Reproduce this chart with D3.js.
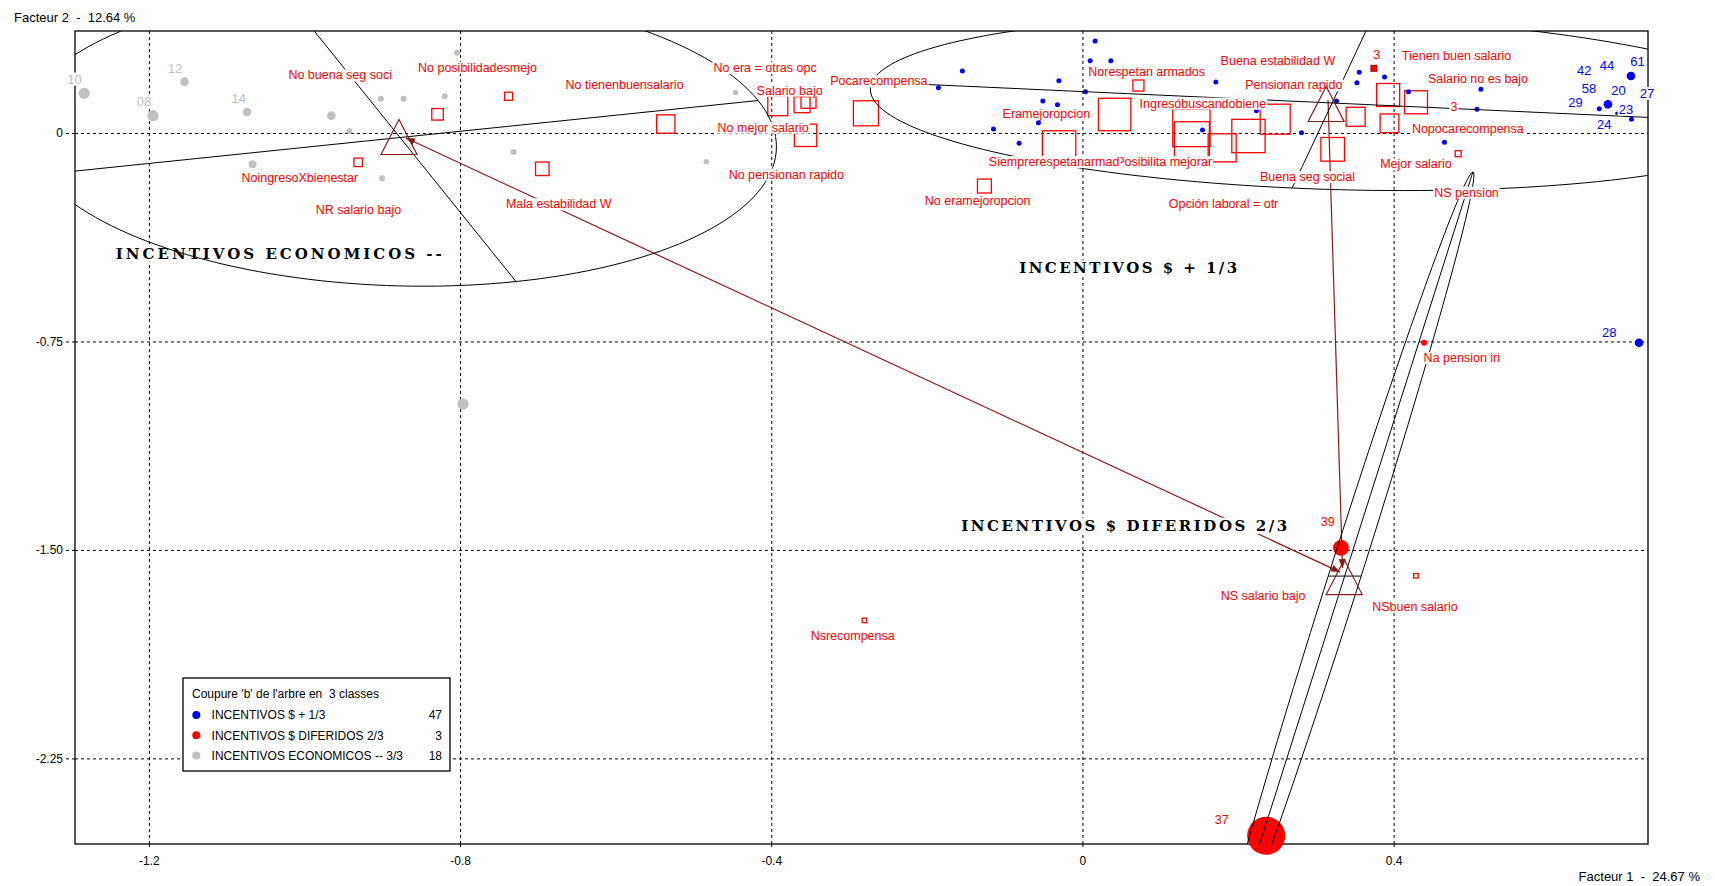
<!DOCTYPE html>
<html lang="es">
<head>
<meta charset="utf-8">
<title>Facteur 1 x Facteur 2</title>
<script src="https://cdn.jsdelivr.net/npm/d3@7"></script>
<style>
  body { margin: 0; background: #fff; }
  svg { display: block; font-family: "Liberation Sans", Arial, sans-serif; }
</style>
</head>
<body>
<svg id="chart" width="1715" height="886"></svg>
<script>
// ---- data ----
const xDomain = [-1.295, 0.727];
const yDomain = [-2.558, 0.367];
const xTicks = [-1.2, -0.8, -0.4, 0, 0.4];
const xTickLabels = ["-1.2", "-0.8", "-0.4", "0", "0.4"];
const yTicks = [0, -0.75, -1.5, -2.25];
const yTickLabels = ["0", "-0.75", "-1.50", "-2.25"];

const classNames = ["INCENTIVOS $ + 1/3", "INCENTIVOS $ DIFERIDOS 2/3", "INCENTIVOS ECONOMICOS -- 3/3"];
const classCounts = [47, 3, 18];
const classTitles = ["INCENTIVOS $ + 1/3", "INCENTIVOS $ DIFERIDOS 2/3", "INCENTIVOS ECONOMICOS --"];
const classTitleX = [0.0588, 0.0536, -1.0330];
const classTitleY = [-0.4858, -1.4124, -0.4329];
const classCenters = [[0.3133, 0.1044], [0.3365, -1.5977], [-0.8785, -0.0144]];

// ellipses: center, first half-axis, second half-axis (factor units)
const ellCenters = [[0.3210, 0.1080], [0.3371, -1.5941], [-0.8772, -0.0162]];
const ellMajor = [[0.5914, -0.0756], [0.1648, 1.4538], [0.4603, 0.1331]];
const ellMinor = [[-0.0514, -0.3059], [0.0212, 0], [0.1491, -0.5182]];

// links between classes
const linkFrom = [[-0.8695, -0.0180], [0.3157, 0.1187]];
const linkTo = [[0.3313, -1.5797], [0.3343, -1.5653]];

// individuals [x, y, weight]
const blueDots = [
  [0.0163, 0.3311, 1], [0.0099, 0.2602, 1], [0.0365, 0.2602, 1], [-0.1543, 0.2231, 1],
  [-0.0303, 0.1882, 1], [-0.1851, 0.1630, 1], [0.0039, 0.1486, 1], [-0.0509, 0.1151, 1],
  [-0.0321, 0.1018, 1], [-0.0566, 0.0371, 1], [-0.1144, 0.0144, 1], [-0.0814, -0.0371, 1],
  [0.1715, 0.1835, 1], [0.2237, 0.0802, 1], [0.1543, 0.0108, 1], [0.2816, 0.0011, 1],
  [0.3266, 0.1151, 1], [0.3558, 0.2184, 1], [0.3528, 0.1810, 1], [0.3883, 0.2015, 1],
  [0.4191, 0.1486, 1], [0.4654, -0.0335, 1], [0.5122, 0.1573, 1], [0.5071, 0.0853, 1],
  [0.7051, 0.2051, 3], [0.6755, 0.1033, 3], [0.6643, 0.0874, 1], [0.7058, 0.0493, 1],
  [0.6871, 0.0709, 0.5], [0.7155, -0.7546, 3]
];
const grayDots = [
  [-1.2832, 0.1429, 5], [-1.1543, 0.1846, 3], [-1.1948, 0.0623, 5], [-1.0737, 0.0756, 3],
  [-0.9654, 0.0623, 3], [-0.9423, 0.0072, 1.4], [-0.9019, 0.1234, 1.4], [-0.8725, 0.1234, 1.4],
  [-0.8198, 0.1321, 1.4], [-0.8039, 0.2890, 1.4], [-1.0667, -0.1126, 2.5], [-0.9004, -0.1630, 1.4],
  [-0.7312, -0.0684, 1.4], [-0.7962, -0.9752, 5], [-0.4459, 0.1457, 1.2], [-0.4835, -0.1033, 1.2]
];
const redDots = [[0.3323, -1.4923, 10], [0.2362, -2.5283, 58], [0.4392, -0.7546, 1.4]];
const redMarks = [[0.3747, 0.2328]];

// modalities [x, y, weight]
const squares = [
  [-0.8290, 0.0673, 3.67], [-0.7377, 0.1321, 1.78], [-0.9310, -0.1054, 2.0], [-0.6943, -0.1288, 5.06],
  [-0.5356, 0.0324, 9.3], [-0.3916, 0.0982, 11.1], [-0.3604, 0.1018, 7.1], [-0.3521, 0.1159, 6.25],
  [-0.3559, -0.0083, 13.9], [-0.2783, 0.0709, 17.4], [-0.0300, -0.0518, 30.8], [-0.1260, -0.1907, 5.4],
  [0.0414, 0.0666, 29.2], [0.0720, 0.1709, 3.4], [0.1401, 0.0180, 38.6], [0.1407, -0.0223, 34],
  [0.1796, -0.0533, 21.8], [0.2134, -0.0108, 30.8], [0.2478, 0.0497, 25], [0.3512, 0.0583, 10],
  [0.3930, 0.1367, 14.7], [0.3947, 0.0349, 9.7], [0.4288, 0.1105, 14.7], [0.3217, -0.0587, 15.5],
  [0.4830, -0.0745, 1], [-0.2802, -1.7535, 0.56], [0.4287, -1.5930, 0.56]
];

// text labels [text, x, y]
const modLabels = [
  ["No buena seg soci", -0.9541, 0.2087], ["No posibilidadesmejo", -0.7777, 0.2350],
  ["No tienenbuensalario", -0.5886, 0.1752], ["NoingresoXbienestar", -1.0060, -0.1608],
  ["NR salario bajo", -0.9307, -0.2771], ["Mala estabilidad W", -0.6732, -0.2555],
  ["No era = otras opc", -0.4079, 0.2350], ["Salario bajo", -0.3764, 0.1537],
  ["No mejor salario", -0.4105, 0.0205], ["No pensionan rapido", -0.3806, -0.1486],
  ["Pocarecompensa", -0.2616, 0.1871], ["Eramejoropcion", -0.0464, 0.0694],
  ["Posibilita mejorar", 0.1050, -0.1033], ["Siemprerespetanarmad", -0.0364, -0.1033],
  ["No eramejoropcion", -0.1347, -0.2436], ["Norespetan armados", 0.0825, 0.2206],
  ["Ingresóbuscandobiene", 0.1548, 0.1069], ["Buena estabilidad W", 0.2513, 0.2591],
  ["Pensionan rapido", 0.2717, 0.1727], ["Buena seg social", 0.2893, -0.1573],
  ["Opción laboral = otr", 0.1814, -0.2555], ["3", 0.3783, 0.2807],
  ["Tienen buen salario", 0.4808, 0.2771], ["Salario no es bajo", 0.5085, 0.1943],
  ["3", 0.4775, 0.0946], ["Nopocarecompensa", 0.4954, 0.0169],
  ["Mejor salario", 0.4287, -0.1116], ["NS pension", 0.4937, -0.2134],
  ["Na pension iri", 0.4877, -0.8086], ["NS salario bajo", 0.2323, -1.6650],
  ["NSbuen salario", 0.4274, -1.7031], ["Nsrecompensa", -0.2953, -1.8075],
  ["39", 0.3153, -1.3987], ["37", 0.1791, -2.4721]
];
const blueLabels = [
  ["42", 0.6450, 0.2267], ["44", 0.6742, 0.2447], ["61", 0.7136, 0.2566], ["58", 0.6511, 0.1608],
  ["20", 0.6891, 0.1547], ["27", 0.7256, 0.1429], ["29", 0.6338, 0.1090], ["23", 0.6986, 0.0864],
  ["24", 0.6707, 0.0313], ["28", 0.6772, -0.7161]
];
const grayLabels = [["10", -1.2956, 0.1943], ["12", -1.1665, 0.2339], ["08", -1.2064, 0.1126], ["14", -1.0845, 0.1249]];

// ---- layout ----
const W = 1715, H = 886;
const margin = {top: 31, right: 67, bottom: 42, left: 75};
const BLUE = "#0000ff", RED = "#ff0000", GRAY = "#c0c0c0", DARKRED = "#8b1a1a";
const classColors = [BLUE, RED, GRAY];
const titleWidth = [218, 326, 326];

const x = d3.scaleLinear().domain(xDomain).range([margin.left, W - margin.right]);
const y = d3.scaleLinear().domain(yDomain).range([H - margin.bottom, margin.top]);
const rDot = d3.scaleSqrt().domain([0, 1]).range([0, 2.5]);
const sSq = d3.scaleSqrt().domain([0, 1]).range([0, 6]);
const plotW = W - margin.left - margin.right;
const plotH = H - margin.top - margin.bottom;

const svg = d3.select("#chart");
const defs = svg.append("defs");
defs.append("clipPath").attr("id", "plotClip").append("rect")
    .attr("x", margin.left).attr("y", margin.top).attr("width", plotW).attr("height", plotH);
defs.append("marker").attr("id", "arrow")
    .attr("viewBox", "0 0 10 10").attr("refX", 10).attr("refY", 5)
    .attr("markerWidth", 9).attr("markerHeight", 9).attr("markerUnits", "userSpaceOnUse")
    .attr("orient", "auto-start-reverse")
  .append("path").attr("d", "M0,1L10,5L0,9Z").attr("fill", DARKRED);

// grid + axes
const gridX = svg.append("g").attr("transform", `translate(0,${H - margin.bottom})`)
    .call(d3.axisBottom(x).tickValues(xTicks).tickSizeInner(-plotH).tickSizeOuter(0).tickFormat(""));
gridX.select(".domain").remove();
const gridY = svg.append("g").attr("transform", `translate(${margin.left},0)`)
    .call(d3.axisLeft(y).tickValues(yTicks).tickSizeInner(-plotW).tickSizeOuter(0).tickFormat(""));
gridY.select(".domain").remove();
svg.selectAll(".tick line").attr("stroke", "#000").attr("stroke-dasharray", "3,3");

const axX = svg.append("g").attr("transform", `translate(0,${H - margin.bottom})`)
    .call(d3.axisBottom(x).tickValues(xTicks).tickSize(6).tickPadding(6).tickFormat((d, i) => xTickLabels[i]));
const axY = svg.append("g").attr("transform", `translate(${margin.left},0)`)
    .call(d3.axisLeft(y).tickValues(yTicks).tickSize(10).tickPadding(2).tickFormat((d, i) => yTickLabels[i]));
[axX, axY].forEach(a => {
  a.select(".domain").remove();
  a.selectAll("line").attr("stroke", "#000").attr("stroke-dasharray", "3,3");
  a.selectAll("text").attr("font-size", 12).attr("font-family", "Liberation Sans, Arial, sans-serif").attr("fill", "#000");
});

svg.append("text").attr("x", 14).attr("y", 22).attr("font-size", 13).style("white-space", "pre")
    .text("Facteur 2  -  12.64 %");
svg.append("text").attr("x", 1700).attr("y", 881).attr("text-anchor", "end").attr("font-size", 13)
    .style("white-space", "pre").text("Facteur 1  -  24.67 %");

// links between classes
const gLinks = svg.append("g").attr("clip-path", "url(#plotClip)");
linkFrom.forEach((f, i) => {
  gLinks.append("line")
      .attr("x1", x(f[0])).attr("y1", y(f[1]))
      .attr("x2", x(linkTo[i][0])).attr("y2", y(linkTo[i][1]))
      .attr("stroke", DARKRED).attr("stroke-width", 1.2)
      .attr("marker-end", "url(#arrow)")
      .attr("marker-start", i === 0 ? "url(#arrow)" : null);
});

// helper: text with an opaque white box behind it
function boxedText(g, txt, px, py, opts) {
  const t = g.append("text").attr("x", px).attr("y", py).attr("dy", "0.35em")
      .attr("text-anchor", "middle").attr("fill", opts.color).attr("font-size", opts.size)
      .text(txt);
  if (opts.font) t.attr("font-family", opts.font).attr("font-weight", "bold");
  if (opts.width) t.attr("textLength", opts.width).attr("lengthAdjust", "spacing");
  const b = t.node().getBBox();
  g.insert("rect", () => t.node())
      .attr("x", b.x - 1).attr("y", b.y + 1).attr("width", b.width + 2).attr("height", b.height - 2)
      .attr("fill", "#fff");
  return t;
}

// class titles
const gTitles = svg.append("g");
classTitles.forEach((c, i) => {
  boxedText(gTitles, c, x(classTitleX[i]), y(classTitleY[i]),
      {color: "#000", size: 15, font: "DejaVu Serif, Liberation Serif, serif", width: titleWidth[i]});
});

// frame
svg.append("rect").attr("x", margin.left).attr("y", margin.top).attr("width", plotW).attr("height", plotH)
    .attr("fill", "none").attr("stroke", "#000").attr("stroke-width", 1.3);

// modalities
svg.append("g").attr("fill", "none").attr("stroke", RED).attr("stroke-width", 1.3)
  .selectAll("rect").data(squares).join("rect")
    .attr("x", d => x(d[0]) - sSq(d[2]) / 2).attr("y", d => y(d[1]) - sSq(d[2]) / 2)
    .attr("width", d => sSq(d[2])).attr("height", d => sSq(d[2]));

// individuals
const gDots = svg.append("g");
[[grayDots, GRAY], [blueDots, BLUE], [redDots, RED]].forEach(([data, col]) => {
  gDots.append("g").selectAll("circle").data(data).join("circle")
      .attr("cx", d => x(d[0])).attr("cy", d => y(d[1])).attr("r", d => rDot(d[2]))
      .attr("fill", col);
});
gDots.selectAll("rect.mark").data(redMarks).join("rect").attr("class", "mark")
    .attr("x", d => x(d[0]) - 3).attr("y", d => y(d[1]) - 3).attr("width", 6).attr("height", 6)
    .attr("fill", RED).attr("stroke", "#a00000");

// class ellipses with their axes
const gEll = svg.append("g").attr("clip-path", "url(#plotClip)")
    .attr("fill", "none").attr("stroke", "#000").attr("stroke-width", 1);
const angles = d3.range(0, 360, 2).map(a => a * Math.PI / 180);
const ellLine = d3.line().x(p => x(p[0])).y(p => y(p[1])).curve(d3.curveLinearClosed);
ellCenters.forEach((c, i) => {
  const u = ellMajor[i], v = ellMinor[i];
  const pts = angles.map(t => [c[0] + Math.cos(t) * u[0] + Math.sin(t) * v[0],
                               c[1] + Math.cos(t) * u[1] + Math.sin(t) * v[1]]);
  gEll.append("path").attr("d", ellLine(pts));
  [u, v].forEach(a => {
    gEll.append("line")
        .attr("x1", x(c[0] - a[0])).attr("y1", y(c[1] - a[1]))
        .attr("x2", x(c[0] + a[0])).attr("y2", y(c[1] + a[1]));
  });
});

// labels
const gLab = svg.append("g");
modLabels.forEach(d => boxedText(gLab, d[0], x(d[1]), y(d[2]), {color: RED, size: 12.5}));
blueLabels.forEach(d => boxedText(gLab, d[0], x(d[1]), y(d[2]), {color: BLUE, size: 13}));
grayLabels.forEach(d => boxedText(gLab, d[0], x(d[1]), y(d[2]), {color: GRAY, size: 13}));

// class centres (triangles)
svg.append("g").attr("fill", "none").attr("stroke", DARKRED).attr("stroke-width", 1.2)
  .selectAll("path").data(classCenters).join("path")
    .attr("d", d => {
      const cx = x(d[0]), cy = y(d[1]);
      return `M${cx},${cy - 17.5}L${cx + 18},${cy + 17.5}L${cx - 18},${cy + 17.5}Z`;
    });

// legend
const lg = svg.append("g").attr("transform", "translate(183,678)");
lg.append("rect").attr("width", 267).attr("height", 93).attr("fill", "#fff")
    .attr("stroke", "#000").attr("stroke-width", 1.3);
lg.append("text").attr("x", 9).attr("y", 19.5).attr("font-size", 12).style("white-space", "pre")
    .text("Coupure 'b' de l'arbre en  3 classes");
const rows = lg.selectAll("g.row").data(classNames).join("g").attr("class", "row")
    .attr("transform", (d, i) => `translate(0,${37 + i * 20.3})`);
rows.append("circle").attr("cx", 13.3).attr("r", 4).attr("fill", (d, i) => classColors[i]);
rows.append("text").attr("x", 28.6).attr("dy", "0.35em").attr("font-size", 12).text(d => d);
rows.append("text").attr("x", 259).attr("dy", "0.35em").attr("text-anchor", "end").attr("font-size", 12)
    .text((d, i) => classCounts[i]);
</script>
</body>
</html>
